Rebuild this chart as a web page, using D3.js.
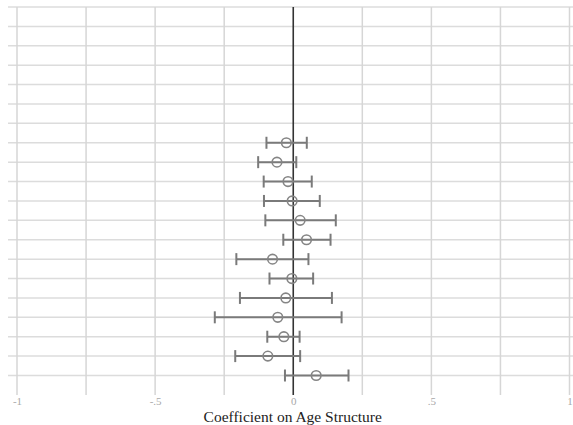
<!DOCTYPE html>
<html>
<head>
<meta charset="utf-8">
<script src="https://cdn.jsdelivr.net/npm/d3@7"></script>
<style>
  html, body { margin: 0; padding: 0; background: #fff; }
  svg { display: block; }
</style>
</head>
<body>
<svg id="chart" width="573" height="425"></svg>
<script>
// Rows of the coefficient plot, top to bottom; rows without an estimate are null.
const rows = d3.range(20);
const estimates = [null, null, null, null, null, null, null,
  -0.025, -0.059, -0.019, -0.004, 0.025, 0.048, -0.075, -0.005, -0.027, -0.056, -0.034, -0.092, 0.083];
const lower = [null, null, null, null, null, null, null,
  -0.097, -0.127, -0.107, -0.106, -0.101, -0.036, -0.206, -0.086, -0.193, -0.284, -0.094, -0.210, -0.030];
const upper = [null, null, null, null, null, null, null,
  0.049, 0.011, 0.067, 0.096, 0.154, 0.135, 0.055, 0.072, 0.140, 0.175, 0.023, 0.025, 0.200];
const gridValues = [-1, -0.75, -0.5, -0.25, 0, 0.25, 0.5, 0.75, 1];
const tickValues = [-1, -0.5, 0, 0.5, 1];
const tickLabels = ["-1", "-.5", "0", ".5", "1"];
const xTitle = "Coefficient on Age Structure";

const svg = d3.select("#chart");
const x = d3.scaleLinear().domain([-1, 1]).range([17, 569.5]);
const y = d3.scalePoint().domain(rows).range([7, 375.5]);
const gridBottom = 395;
const serif = '"Liberation Serif"';

// horizontal row lines
svg.append("g").selectAll("line").data(rows).join("line")
  .attr("x1", 8).attr("x2", 573)
  .attr("y1", d => y(d)).attr("y2", d => y(d))
  .attr("stroke", "#dcdcdc").attr("stroke-width", 1.5);

// vertical grid lines
svg.append("g").selectAll("line").data(gridValues.filter(v => v !== 0)).join("line")
  .attr("x1", d => x(d)).attr("x2", d => x(d))
  .attr("y1", y(0)).attr("y2", gridBottom)
  .attr("stroke", "#d6d6d6").attr("stroke-width", 1.5);

// zero reference line
svg.append("line")
  .attr("x1", x(0)).attr("x2", x(0))
  .attr("y1", y(0)).attr("y2", gridBottom)
  .attr("stroke", "#333").attr("stroke-width", 1.6);

// x axis tick labels
const axis = d3.axisBottom(x).tickValues(tickValues)
  .tickFormat((d, i) => tickLabels[i]).tickSize(0).tickPadding(0);
const gx = svg.append("g").attr("transform", `translate(0,${gridBottom + 2})`).call(axis);
gx.select(".domain").remove();
gx.selectAll("text")
  .attr("fill", "#a8a8a8")
  .style("font-family", serif).style("font-size", "11px");

svg.append("text")
  .attr("x", x(0) - 0.5).attr("y", 422)
  .attr("text-anchor", "middle")
  .style("font-family", serif).style("font-size", "15.5px")
  .attr("fill", "#222")
  .text(xTitle);

// confidence intervals and point estimates
const data = rows.filter(i => estimates[i] !== null)
  .map(i => ({ row: i, est: estimates[i], lo: lower[i], hi: upper[i] }));
const capHalf = 6;
const ci = svg.append("g").attr("stroke", "#7a7a7a").attr("stroke-width", 2).attr("fill", "none");
ci.selectAll("line.bar").data(data).join("line").attr("class", "bar")
  .attr("x1", d => x(d.lo)).attr("x2", d => x(d.hi))
  .attr("y1", d => y(d.row)).attr("y2", d => y(d.row));
ci.selectAll("line.lo").data(data).join("line").attr("class", "lo")
  .attr("x1", d => x(d.lo)).attr("x2", d => x(d.lo))
  .attr("y1", d => y(d.row) - capHalf).attr("y2", d => y(d.row) + capHalf);
ci.selectAll("line.hi").data(data).join("line").attr("class", "hi")
  .attr("x1", d => x(d.hi)).attr("x2", d => x(d.hi))
  .attr("y1", d => y(d.row) - capHalf).attr("y2", d => y(d.row) + capHalf);

svg.append("g").selectAll("circle").data(data).join("circle")
  .attr("cx", d => x(d.est)).attr("cy", d => y(d.row)).attr("r", 4.8)
  .attr("fill", "none").attr("stroke", "#858585").attr("stroke-width", 1.6);
</script>
</body>
</html>
